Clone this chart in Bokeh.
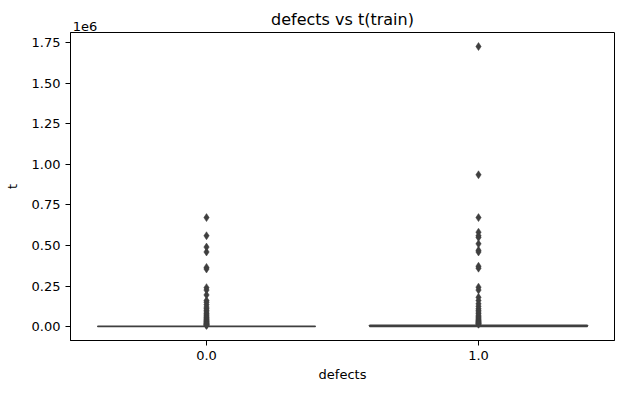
from bokeh.plotting import figure
from bokeh.models import Range1d, FixedTicker, LinearAxis, ColumnDataSource
from bokeh.embed import file_html
from bokeh.resources import INLINE

# ---- data ----
categories = ["0.0", "1.0"]
box_colors = ["#3274a1", "#e1812c"]
q1 = [0, 500]
median = [500, 2500]
q3 = [2000, 8000]
whisker_lo = [0, 0]
whisker_hi = [5000, 18000]

outliers_0 = [672000, 560000, 490000, 460000, 365000, 355000, 240000, 225000,
              195000, 160000, 150000, 135000, 120000, 110000, 100000, 90000,
              80000, 72000, 65000, 58000, 52000, 46000, 41000, 36000, 32000,
              28000, 24000, 20000, 17000, 14000, 11000, 9000, 7000]
outliers_1 = [1727000, 936000, 672000, 582000, 560000, 550000, 510000, 470000,
              460000, 372000, 360000, 243000, 225000, 180000, 160000, 140000,
              125000, 110000, 100000, 90000, 80000, 70000, 62000, 55000, 48000,
              42000, 37000, 33000, 29000, 25000, 22000, 19000, 16000, 14000]

ytick_values = [0, 250000, 500000, 750000, 1000000, 1250000, 1500000, 1750000]
ytick_labels = ["0.00", "0.25", "0.50", "0.75", "1.00", "1.25", "1.50", "1.75"]
y_scale_text = "1e6"
title_text = "defects vs t(train)"

FONT = "DejaVu Sans"
EDGE = "#3f3f3f"

xpos = list(range(len(categories)))

p = figure(width=622, height=393, output_backend="svg", toolbar_location=None,
           x_range=Range1d(-0.5, len(categories) - 0.5),
           y_range=Range1d(-86000, 1813600),
           min_border_left=70, min_border_right=8, min_border_top=32, min_border_bottom=53)

p.grid.visible = False
p.outline_line_color = "black"
p.outline_line_width = 1
p.background_fill_color = "white"
p.border_fill_color = "white"

box_src = ColumnDataSource(dict(x=xpos, q1=q1, q3=q3, med=median,
                                lo=whisker_lo, hi=whisker_hi, color=box_colors))
# whiskers
p.segment(x0="x", y0="q3", x1="x", y1="hi", source=box_src, line_color=EDGE, line_width=1.5)
p.segment(x0="x", y0="lo", x1="x", y1="q1", source=box_src, line_color=EDGE, line_width=1.5)
# boxes
p.vbar(x="x", bottom="q1", top="q3", width=0.8, source=box_src,
       fill_color="color", line_color=EDGE, line_width=1.5)
# medians
p.rect(x="x", y="med", width=0.8, height=0, source=box_src, line_color=EDGE, line_width=1.5,
       fill_alpha=0)

# outliers
for xi, vals in zip(xpos, [outliers_0, outliers_1]):
    p.scatter(x=[xi] * len(vals), y=vals, marker="diamond", size=8,
              fill_color=EDGE, line_color=EDGE, line_width=0.5)

# axes
p.xaxis.ticker = FixedTicker(ticks=xpos)
p.xaxis.major_label_overrides = {xi: c for xi, c in zip(xpos, categories)}
p.yaxis.ticker = FixedTicker(ticks=ytick_values)
p.yaxis.major_label_overrides = {v: l for v, l in zip(ytick_values, ytick_labels)}
for ax in (p.xaxis[0], p.yaxis[0]):
    ax.axis_line_color = "black"
    ax.major_tick_line_color = "black"
    ax.major_tick_out = 5
    ax.major_tick_in = 0
    ax.minor_tick_line_color = None
    ax.major_label_text_font = FONT
    ax.major_label_text_font_size = "13px"
    ax.major_label_text_color = "black"
    ax.major_label_standoff = 5
    ax.axis_label_text_font = FONT
    ax.axis_label_text_font_size = "13px"
    ax.axis_label_text_font_style = "normal"
    ax.axis_label_text_color = "black"
p.xaxis.axis_label = "defects"
p.yaxis.axis_label = "t"
p.xaxis.axis_label_standoff = 4
p.yaxis.axis_label_standoff = 9

# top band: offset text "1e6" (as a label of a pixel-based helper axis) and the title
p.extra_x_ranges = {"px": Range1d(0, 544)}
top_axis = LinearAxis(x_range_name="px", ticker=FixedTicker(ticks=[14.5]),
                      major_label_overrides={14.5: y_scale_text},
                      axis_line_color=None, major_tick_line_color=None,
                      minor_tick_line_color=None, major_tick_out=0, major_tick_in=0,
                      major_label_standoff=2,
                      major_label_text_font=FONT, major_label_text_font_size="13px",
                      major_label_text_color="black",
                      axis_label=title_text, axis_label_standoff=-10,
                      axis_label_text_font=FONT, axis_label_text_font_size="16px",
                      axis_label_text_font_style="normal", axis_label_text_color="black")
p.add_layout(top_axis, "above")

open("out.html", "w").write(file_html(p, INLINE))
